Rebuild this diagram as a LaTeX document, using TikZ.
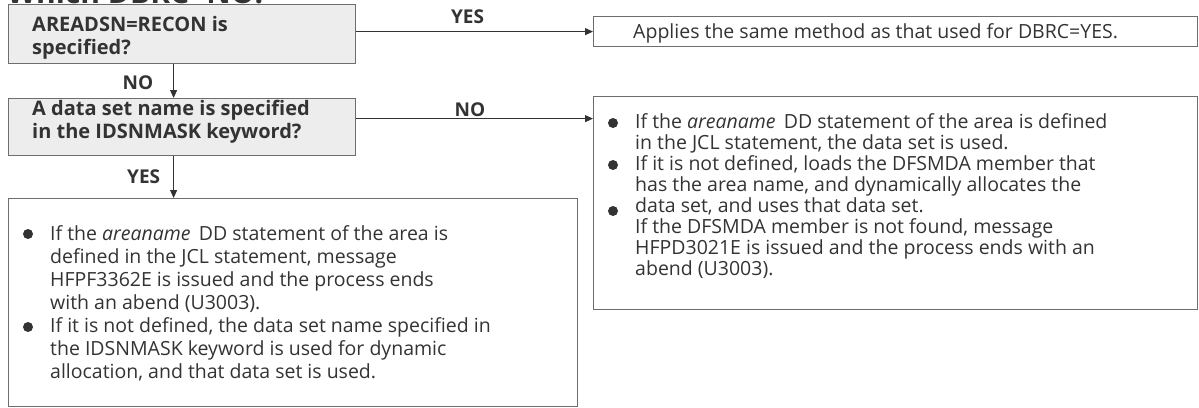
\documentclass[tikz,border=0pt]{standalone}
\usepackage{fontspec}
\setmainfont{Open Sans}
\usetikzlibrary{arrows.meta,positioning}

\definecolor{boxgray}{HTML}{EDEDED}
\definecolor{edgegray}{HTML}{6E6E6E}
\definecolor{inkgray}{HTML}{333333}

\tikzset{
  qbox/.style={draw=edgegray, fill=boxgray, line width=1.2pt, anchor=north west, inner sep=0pt},
  abox/.style={draw=edgegray, line width=1.2pt, anchor=north west, inner sep=0pt},
  flow/.style={draw=inkgray, line width=0.9pt, -{Triangle[length=8pt,width=7pt]}},
  qtext/.style={anchor=north west, inner sep=0pt, align=left, text=inkgray,
    font=\fontsize{20}{23}\selectfont\bfseries},
  atext/.style={anchor=north west, inner sep=0pt, align=left, text=inkgray,
    font=\fontsize{19.5}{23}\selectfont},
  lbl/.style={inner sep=0pt, text=inkgray, font=\fontsize{19}{20}\selectfont\bfseries},
  dot/.style={fill=inkgray}
}

\begin{document}
\begin{tikzpicture}[x=1pt,y=1pt]
    \useasboundingbox (0,0) rectangle (1199,-407);

    % heading cut off by the page
    \node[anchor=base west, inner sep=0pt, text=inkgray, font=\fontsize{30}{34}\selectfont\bfseries]
        (head) at (7,-3) {Which DBRC=NO:};

    % question boxes
    \node[qbox, minimum width=347pt, minimum height=59pt] (q1) at (8,-4) {};
    \node[qbox, minimum width=347pt, minimum height=57pt] (q2) at (8,-98) {};
    \node[qtext] (q1t) at (32,-16) {AREADSN=RECON is\\specified?};
    \node[qtext] (q2t) at (32,-100) {A data set name is specified\\in the IDSNMASK keyword?};

    % answer boxes
    \node[abox, minimum width=604pt, minimum height=30pt] (a1) at (593,-16) {};
    \node[anchor=base west, inner sep=0pt, text=inkgray, font=\fontsize{19.5}{22}\selectfont]
        (a1t) at (633,-38) {Applies the same method as that used for DBRC=YES.};

    \node[abox, minimum width=604pt, minimum height=213pt] (a2) at (593,-96) {};
    \node[atext, font=\fontsize{19.5}{21}\selectfont] (a2t) at (635,-113)
        {If the \textit{areaname}\, DD statement of the area is defined\\
         in the JCL statement, the data set is used.\\
         If it is not defined, loads the DFSMDA member that\\
         has the area name, and dynamically allocates the\\
         data set, and uses that data set.\\
         If the DFSMDA member is not found, message\\
         HFPD3021E is issued and the process ends with an\\
         abend (U3003).};
    \fill[dot] (613,-123) circle (5pt);
    \fill[dot] (613,-165) circle (5pt);
    \fill[dot] (613,-211) circle (5pt);

    \node[abox, minimum width=569pt, minimum height=208pt] (a3) at (8,-198) {};
    \node[atext] (a3t) at (50,-225)
        {If the \textit{areaname}\, DD statement of the area is\\
         defined in the JCL statement, message\\
         HFPF3362E is issued and the process ends\\
         with an abend (U3003).\\
         If it is not defined, the data set name specified in\\
         the IDSNMASK keyword is used for dynamic\\
         allocation, and that data set is used.};
    \fill[dot] (28,-234) circle (5pt);
    \fill[dot] (28,-327) circle (5pt);

    % connectors
    \draw[flow] (q1.east |- a1.west) -- (a1.west)
        node[lbl, pos=0.47, above=7pt] (yes1) {YES};
    \draw[flow] ([yshift=8.5pt]q2.east) -- ([yshift=8.5pt]q2.east -| a2.west)
        node[lbl, pos=0.48, above=1.5pt] (no2) {NO};
    \draw[flow] ([xshift=-8.5pt]q1.south) -- ([xshift=-8.5pt]q2.north)
        node[lbl, pos=0.55, left=20pt] (no1) {NO};
    \draw[flow] ([xshift=-8.5pt]q2.south) -- ([xshift=-8.5pt]q2.south |- a3.north)
        node[lbl, pos=0.5, left=13pt] (yes2) {YES};
\end{tikzpicture}
\end{document}
